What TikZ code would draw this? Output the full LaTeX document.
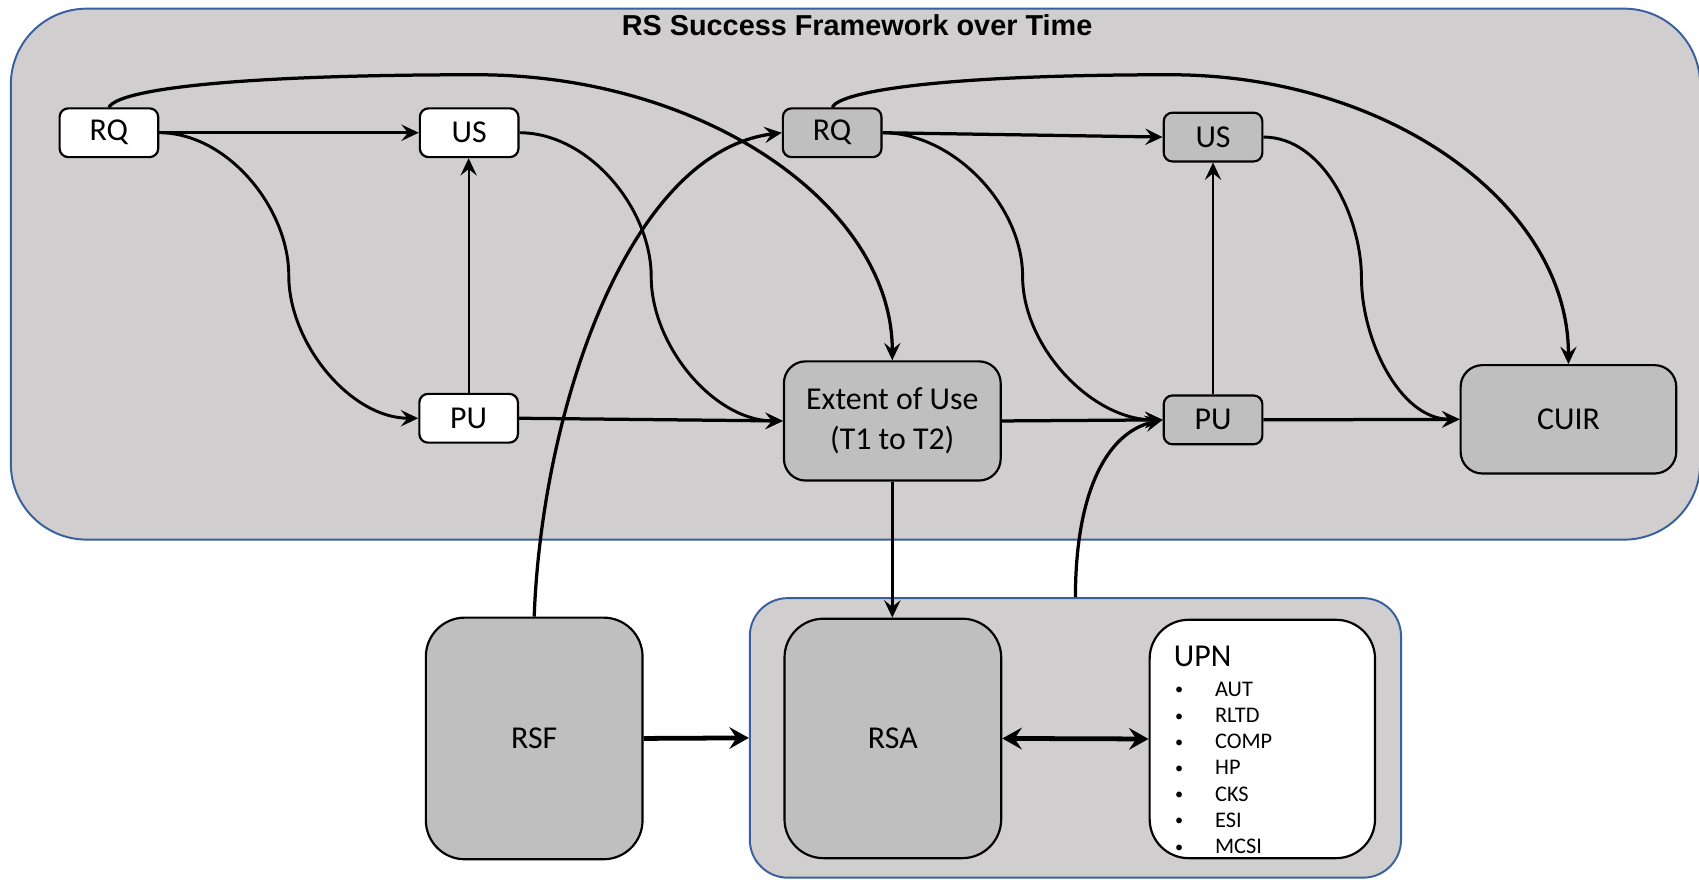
\documentclass[tikz,border=0pt]{standalone}
\usepackage{fontspec}
\setmainfont{Carlito}
\newfontfamily\titlefont{Liberation Sans}
\usetikzlibrary{arrows.meta,calc}
\definecolor{panelgray}{HTML}{D0CECE}
\definecolor{boxgray}{HTML}{BFBFBF}
\definecolor{panelblue}{HTML}{3A5F9E}

\begin{document}
\begin{tikzpicture}[x=0.5pt,y=0.5pt,
  font=\fontsize{14.7}{18.7}\selectfont,
  panel/.style={draw=panelblue, fill=panelgray, line width=0.9pt, inner sep=0pt},
  nodebox/.style={draw=black, line width=1pt, inner sep=0pt, align=center},
  smallbox/.style={nodebox, rounded corners=4pt, minimum width=45.5pt, minimum height=22.5pt},
  midbox/.style={nodebox, fill=boxgray, rounded corners=10pt, minimum width=100pt},
  bigbox/.style={nodebox, rounded corners=18pt, minimum width=100pt, minimum height=111pt},
  tip/.style={-{Stealth[length=8pt,width=7.5pt,inset=3pt]}},
  link/.style={line width=1.5pt, tip},
  thinlink/.style={line width=1pt, tip},
  scurve/.style={line width=1.35pt, tip},
  heavylink/.style={line width=2.2pt, -{Stealth[length=9pt,width=10pt,inset=3.3pt]}},
  heavytwoway/.style={line width=2.2pt, {Stealth[length=9pt,width=10pt,inset=3.3pt]}-{Stealth[length=9pt,width=10pt,inset=3.3pt]}},
]
\useasboundingbox (0,0) rectangle (1568,-812);

% container panels
\node[panel, rounded corners=35pt, minimum width=779.5pt, minimum height=245pt] (frameT) at (789.5,-253) {};
\node[panel, rounded corners=17.5pt, minimum width=300.5pt, minimum height=129pt] (frameL) at (992.5,-681) {};

\node[font=\titlefont\bfseries\fontsize{13.3}{15}\selectfont, anchor=base, inner sep=0pt] (title) at (791,-33) {RS Success Framework over Time};

% time 1
\node[smallbox, fill=white] (rq1) at (100.5,-122.5) {RQ};
\node[smallbox, fill=white] (us1) at (433,-122.5) {US};
\node[smallbox, fill=white] (pu1) at (432.5,-386) {PU};
\node[midbox, minimum height=55pt] (ext) at (823.5,-388.5) {Extent of Use\\(T1 to T2)};

% time 2
\node[smallbox, fill=boxgray] (rq2) at (768,-122.5) {RQ};
\node[smallbox, fill=boxgray] (us2) at (1119.5,-126.5) {US};
\node[smallbox, fill=boxgray] (pu2) at (1119.5,-387.5) {PU};
\node[midbox, minimum width=99.5pt, minimum height=50pt] (cuir) at (1447.5,-387) {CUIR};

% lower blocks
\node[bigbox, fill=boxgray, minimum height=111.5pt] (rsf) at (493,-681.5) {RSF};
\node[bigbox, fill=boxgray, minimum height=110.5pt] (rsa) at (824,-681.5) {RSA};
\node[bigbox, fill=white, minimum width=104pt, minimum height=110pt] (upn) at (1165,-682) {};
\node[anchor=base west, inner sep=0pt] (upntitle) at (1083,-615.5) {UPN};
\foreach \lbl [count=\i] in {AUT,RLTD,COMP,HP,CKS,ESI,MCSI}
  \node[anchor=base west, inner sep=0pt, font=\fontsize{10.3}{12}\selectfont]
    (upnitem\i) at (1084,{-642.5-24.2*(\i-1)}) {\makebox[18.5pt][l]{\fontsize{7.5}{8}\selectfont\raisebox{0.6pt}{\textbullet}}\lbl};

% crest points of the long arcs
\coordinate (crestA) at (440,-69);
\coordinate (crestB) at (1080,-69);

% straight links
\draw[link] (rq1.east) -- (us1.west);
\draw[link] (pu1.east) -- (ext.west);
\draw[link] (rq2.east) -- (us2.west);
\draw[link] (ext.east) -- (pu2.west);
\draw[link] (pu2.east) -- (cuir.west);
\draw[thinlink] (pu1.north) -- (pu1.north |- us1.south);
\draw[thinlink] (pu2.north) -- (pu2.north |- us2.south);
\draw[link] (ext.south) -- (ext.south |- rsa.north);

% s-shaped links
\draw[scurve] (rq1.east) to[out=0,in=90,looseness=0.9] ($(rq1.east)!.5!(pu1.west)$) to[out=-90,in=180,looseness=0.9] (pu1.west);
\draw[scurve] (us1.east) to[out=0,in=90,looseness=0.9] ($(us1.east)!.5!(ext.west)$) to[out=-90,in=180,looseness=0.9] (ext.west);
\draw[scurve] (rq2.east) to[out=0,in=90,looseness=0.9] ($(rq2.east)!.5!(pu2.west)$) to[out=-90,in=180,looseness=0.9] (pu2.west);
\draw[scurve] (us2.east) to[out=0,in=90,looseness=0.9] ($(us2.east)!.5!(cuir.west)$) to[out=-90,in=180,looseness=0.9] (cuir.west);

% long arcs over the top
\draw[link] (rq1.north) .. controls (110,-82) and (220,-69) .. (crestA)
  .. controls (651,-69) and ($(ext.north)+(0,142)$) .. (ext.north);
\draw[link] (rq2.north) .. controls (776,-84) and (870,-69) .. (crestB)
  .. controls (1282,-69) and ($(cuir.north)+(0,147)$) .. (cuir.north);

% links from the lower blocks
\draw[link] (rsf.north) .. controls ($(rsf.north)+(7,190)$) and ($(rq2.west)+(-142,-18)$) .. (rq2.west);
\draw[link] (frameL.north) .. controls ($(frameL.north)+(0,92)$) and ($(pu2.west)+(-54,-12)$) .. (pu2.west);
\draw[heavylink] (rsf.east) -- (frameL.west);
\draw[heavytwoway] (rsa.east) -- (upn.west);
\end{tikzpicture}
\end{document}
